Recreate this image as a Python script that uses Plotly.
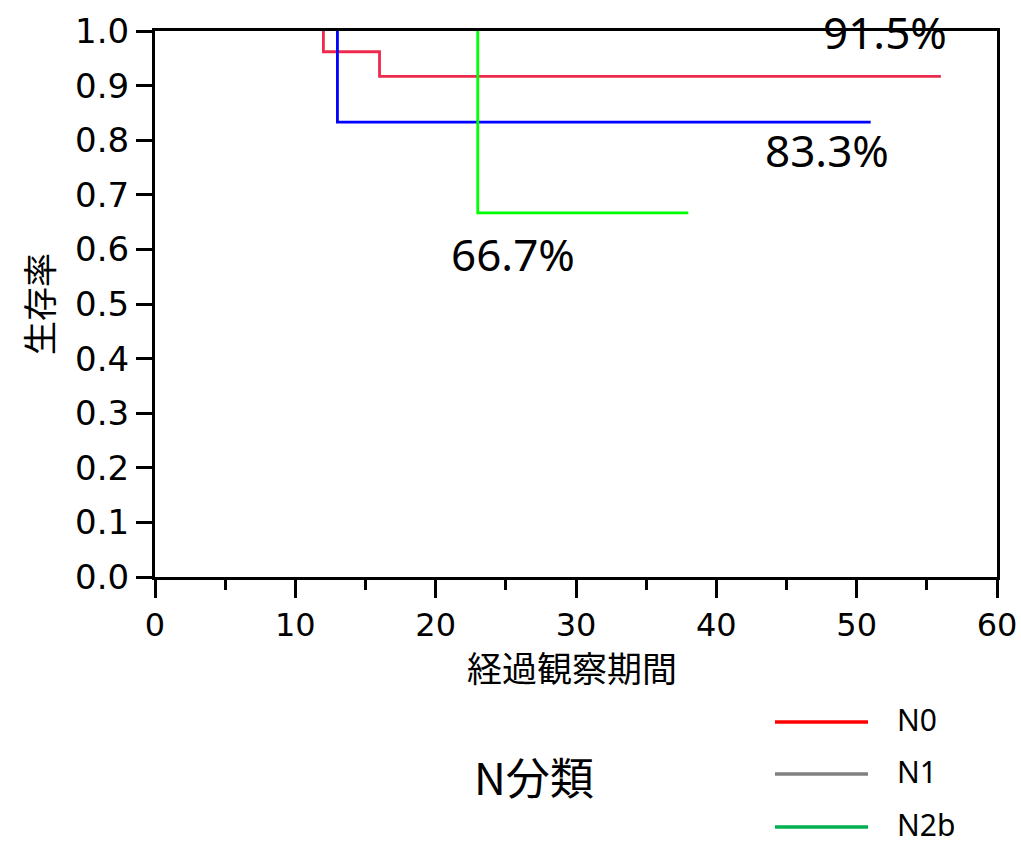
import plotly.graph_objects as go

# ---- data ----
groups = ["N0", "N1", "N2b"]
times_N0 = [12, 12, 16, 56]
surv_N0 = [1.0, 0.962, 0.917, 0.917]
times_N1 = [13, 13, 51]
surv_N1 = [1.0, 0.833, 0.833]
times_N2b = [23, 23, 38]
surv_N2b = [1.0, 0.667, 0.667]

line_colors = ["#ee2a4c", "#0000ff", "#00ff00"]
legend_colors = ["#ff0000", "#808080", "#00b050"]

pct_labels = ["91.5%", "83.3%", "66.7%"]
pct_x = [52.0, 47.85, 25.5]
pct_y = [0.999, 0.782, 0.592]

x_ticks = [0, 10, 20, 30, 40, 50, 60]
y_ticks = [0.0, 0.1, 0.2, 0.3, 0.4, 0.5, 0.6, 0.7, 0.8, 0.9, 1.0]

x_title = "経過観察期間"
y_title = "生存率"
legend_title = "N分類"

series = [(times_N0, surv_N0), (times_N1, surv_N1), (times_N2b, surv_N2b)]

PL, PR, PT, PB = 155, 997, 31, 577
def px(x):
    return (x - PL) / (PR - PL)
def py(y):
    return (PB - y) / (PB - PT)

fig = go.Figure()
for name, (t, s), c in zip(groups, series, line_colors):
    fig.add_trace(go.Scatter(x=t, y=s, mode="lines", line=dict(color=c, width=2.8, shape="hv"),
                             name=name, showlegend=False, hoverinfo="skip", cliponaxis=False))

for txt, x, y in zip(pct_labels, pct_x, pct_y):
    fig.add_annotation(x=x, y=y, xref="x", yref="y", text=txt, showarrow=False,
                       font=dict(family="Noto Sans", size=44, color="black"),
                       xanchor="center", yanchor="middle")

# custom legend
leg_py = [722, 774, 827]
for name, c, ly in zip(groups, legend_colors, leg_py):
    fig.add_shape(type="line", xref="paper", yref="paper",
                  x0=px(775), x1=px(868), y0=py(ly), y1=py(ly),
                  line=dict(color=c, width=3.5))
    fig.add_annotation(xref="paper", yref="paper", x=px(895), y=py(ly - 3), text=name,
                       showarrow=False, xanchor="left", yanchor="middle",
                       font=dict(family="Noto Sans", size=30, color="black"))
fig.add_annotation(xref="paper", yref="paper", x=px(534), y=py(776), text=legend_title,
                   showarrow=False, xanchor="center", yanchor="middle",
                   font=dict(family="Noto Sans CJK JP", size=44, color="black"))

# x axis title
fig.add_annotation(xref="paper", yref="paper", x=px(572), y=py(666), text=x_title,
                   showarrow=False, xanchor="center", yanchor="middle",
                   font=dict(family="Noto Sans CJK JP", size=35, color="black"))

fig.update_layout(
    width=1021, height=846,
    margin=dict(l=PL, r=1021 - PR, t=PT, b=846 - PB),
    plot_bgcolor="white", paper_bgcolor="white",
    font=dict(family="DejaVu Sans", size=32, color="black"),
)
fig.update_xaxes(range=[0, 60], tickvals=x_ticks, ticks="outside", ticklen=18, tickwidth=2.5,
                 tickcolor="black", showline=True, linecolor="black", linewidth=3, mirror=True,
                 showgrid=False, zeroline=False, automargin=False,
                 minor=dict(dtick=5, ticks="outside", ticklen=10, tickwidth=2.5, tickcolor="black", showgrid=False),
                 tickfont=dict(family="DejaVu Sans", size=32))
fig.update_yaxes(range=[0, 1], tickvals=y_ticks, tickformat=".1f", ticks="outside", ticklen=16, tickwidth=2.5,
                 tickcolor="black", showline=True, linecolor="black", linewidth=3, mirror=True,
                 showgrid=False, zeroline=False, automargin=False,
                 tickfont=dict(family="DejaVu Sans", size=34),
                 title=dict(text=y_title, font=dict(family="Noto Sans CJK JP", size=34), standoff=12))

fig.write_html("out.html")
